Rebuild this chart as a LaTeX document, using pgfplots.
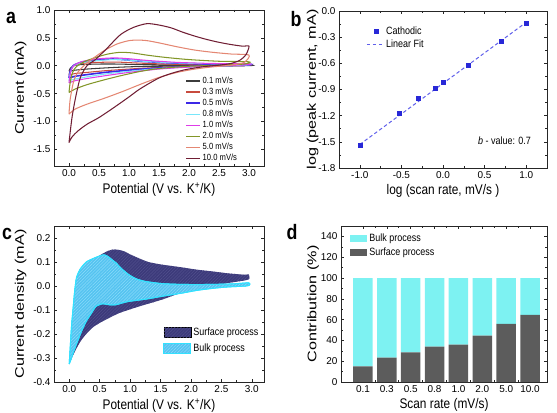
\documentclass[border=0pt]{standalone}
\usepackage{fontspec}
% the figure is set in a slightly condensed sans for horizontal text
\setmainfont{Liberation Sans}[FakeStretch=0.85]
% rotated (vertical) labels use a widened cut of the same family
\newfontfamily\vfont{Liberation Sans}[FakeStretch=1.3]
% plain cut for the tick numbers
\newfontfamily\tfont{Liberation Sans}
\usepackage{pgfplots}
\pgfplotsset{compat=1.18}
\usetikzlibrary{patterns.meta}

% scan-rate colours
\definecolor{cA}{RGB}{60,60,60}
\definecolor{cB}{RGB}{200,75,62}
\definecolor{cC}{RGB}{60,40,230}
\definecolor{cD}{RGB}{120,230,250}
\definecolor{cE}{RGB}{222,60,232}
\definecolor{cF}{RGB}{130,150,40}
\definecolor{cG}{RGB}{228,135,115}
\definecolor{cH}{RGB}{112,30,52}
% fitting / decomposition colours
\definecolor{ptblue}{RGB}{40,40,215}
\definecolor{fitblue}{RGB}{95,95,235}
\definecolor{surf}{RGB}{60,58,122}
\definecolor{surfhatch}{RGB}{82,80,142}
\definecolor{bulk}{RGB}{85,195,240}
\definecolor{bulkhatch}{RGB}{140,220,252}
\definecolor{bulkedge}{RGB}{50,225,255}
\definecolor{barcyan}{RGB}{125,242,242}
\definecolor{bargray}{RGB}{92,92,92}

\pgfplotsset{
  panel/.style={
    scale only axis,
    tick align=inside,
    axis line style={line width=0.8bp, black!85},
    every tick/.style={black!85, line width=0.6bp},
    major tick length=3.2bp,
    minor tick length=1.8bp,
    /pgf/number format/assume math mode=true,
    tick label style={font=\tfont\fontsize{10}{11}\selectfont},
    xlabel style={font=\fontsize{14}{15}\selectfont, yshift=1bp},
    ylabel style={font=\vfont\fontsize{12.5}{13}\selectfont},
  },
  onedec/.style={/pgf/number format/.cd, fixed, fixed zerofill, precision=1},
}

\begin{document}
\begin{tikzpicture}[x=1bp,y=1bp]
\useasboundingbox (0,0) rectangle (557,412);

% ---------------- (a) cyclic voltammograms ----------------
\begin{axis}[panel, at={(54bp,246bp)}, anchor=south west,
  width=210bp, height=156bp,
  xmin=-0.25, xmax=3.25, ymin=-1.8, ymax=1.0,
  xtick={0,0.5,...,3}, ytick={-1.5,-1,...,1},
  minor x tick num=1, minor y tick num=1,
  xticklabel style={onedec}, yticklabel style={onedec},
  xlabel={Potential (V vs. K\textsuperscript{+}/K)},
  ylabel={Current (mA)},
  legend style={at={(axis description cs:0.625,0.585)}, anchor=north west,
    draw=none, fill=none, font=\fontsize{9}{9.5}\selectfont,
    inner sep=0pt, row sep=-0.9bp, cells={anchor=west}},
  legend image code/.code={\draw[#1, line width=1.3bp] (0bp,0bp) -- (14bp,0bp);},
  every axis plot/.append style={smooth, tension=0.45, line width=1.05bp},
]
\addplot[cA] coordinates {
 (0,-0.10) (0.02,-0.05) (0.08,0.0) (0.2,0.02) (0.5,0.03) (0.8,0.03) (1.2,0.02) (2.0,0.012) (3.0,0.01)
 (2.95,0.0) (2.0,-0.005) (1.5,-0.01) (1.0,-0.02) (0.6,-0.04) (0.3,-0.06) (0.1,-0.08) (0,-0.10)};
\addlegendentry{0.1 mV/s}
\addplot[cB] coordinates {
 (0,-0.17) (0.02,-0.08) (0.08,0.0) (0.2,0.04) (0.5,0.06) (0.8,0.065) (1.1,0.05) (1.6,0.03) (2.2,0.02) (3.0,0.018)
 (2.95,0.005) (2.5,0.0) (2.0,-0.01) (1.5,-0.03) (1.0,-0.06) (0.6,-0.09) (0.3,-0.12) (0.1,-0.14) (0,-0.17)};
\addlegendentry{0.3 mV/s}
\addplot[cC, line width=1.6bp] coordinates {
 (0,-0.22) (0.02,-0.1) (0.07,0.0) (0.2,0.06) (0.45,0.1) (0.7,0.12) (0.9,0.11) (1.2,0.08) (1.7,0.05) (2.3,0.03) (3.0,0.025)
 (2.95,0.01) (2.5,0.0) (2.0,-0.015) (1.5,-0.04) (1.0,-0.08) (0.6,-0.12) (0.3,-0.16) (0.1,-0.19) (0,-0.22)};
\addlegendentry{0.5 mV/s}
\addplot[cD] coordinates {
 (0,-0.27) (0.02,-0.13) (0.07,-0.01) (0.2,0.05) (0.45,0.09) (0.75,0.11) (1.0,0.1) (1.3,0.075) (1.8,0.05) (2.4,0.035) (3.0,0.03)
 (2.95,0.012) (2.5,0.0) (2.0,-0.02) (1.5,-0.05) (1.0,-0.1) (0.6,-0.15) (0.3,-0.2) (0.1,-0.24) (0,-0.27)};
\addlegendentry{0.8 mV/s}
\addplot[cE] coordinates {
 (0,-0.31) (0.02,-0.15) (0.07,-0.01) (0.2,0.07) (0.45,0.12) (0.75,0.14) (1.0,0.125) (1.3,0.095) (1.8,0.06) (2.4,0.04) (3.0,0.035)
 (2.95,0.015) (2.5,0.0) (2.0,-0.025) (1.5,-0.06) (1.0,-0.12) (0.6,-0.18) (0.3,-0.23) (0.1,-0.27) (0,-0.31)};
\addlegendentry{1.0 mV/s}
\addplot[cF] coordinates {
 (0,-0.48) (0.02,-0.3) (0.06,-0.12) (0.12,-0.02) (0.25,0.07) (0.45,0.15) (0.65,0.21) (0.85,0.24) (1.05,0.23) (1.3,0.19) (1.6,0.15) (2.0,0.11) (2.5,0.08) (3.0,0.07)
 (2.92,0.03) (2.5,0.01) (2.0,-0.01) (1.5,-0.05) (1.2,-0.1) (0.9,-0.17) (0.6,-0.25) (0.3,-0.34) (0.1,-0.42) (0,-0.48)};
\addlegendentry{2.0 mV/s}
\addplot[cG] coordinates {
 (0,-0.87) (0.02,-0.6) (0.08,-0.27) (0.16,-0.1) (0.3,0.05) (0.45,0.17) (0.6,0.28) (0.8,0.39) (1.0,0.45) (1.15,0.46) (1.3,0.45) (1.5,0.41) (1.8,0.34) (2.1,0.28) (2.4,0.24) (2.7,0.21) (3.0,0.19)
 (2.92,0.06) (2.7,0.01) (2.4,-0.02) (2.1,-0.06) (1.8,-0.12) (1.5,-0.21) (1.2,-0.33) (0.9,-0.46) (0.6,-0.58) (0.3,-0.69) (0.1,-0.78) (0,-0.87)};
\addlegendentry{5.0 mV/s}
\addplot[cH] coordinates {
 (0,-1.38) (0.05,-0.93) (0.11,-0.57) (0.19,-0.21) (0.3,0.0) (0.44,0.11) (0.64,0.32) (0.86,0.56) (1.08,0.69) (1.3,0.755) (1.5,0.73) (1.7,0.68) (1.9,0.6) (2.1,0.53) (2.3,0.47) (2.5,0.42) (2.7,0.38) (2.9,0.35) (3.0,0.35)
 (2.95,0.2) (2.85,0.1) (2.7,0.04) (2.5,0.01) (2.3,-0.01) (2.1,-0.04) (1.9,-0.08) (1.7,-0.14) (1.5,-0.22) (1.3,-0.34) (1.15,-0.44) (1.0,-0.56) (0.75,-0.75) (0.5,-0.93) (0.3,-1.05) (0.15,-1.17) (0.05,-1.28) (0,-1.38)};
\addlegendentry{10.0 mV/s}
\end{axis}

% ---------------- (b) log(i) vs log(v) ----------------
\begin{axis}[panel, at={(339bp,244bp)}, anchor=south west,
  width=208bp, height=157bp,
  xmin=-1.25, xmax=1.25, ymin=-1.8, ymax=0,
  xtick={-1,-0.5,...,1}, ytick={-1.8,-1.5,...,0},
  minor x tick num=1, minor y tick num=1,
  xticklabel style={onedec}, yticklabel style={onedec},
  xlabel={log (scan rate, mV/s )},
  ylabel={log (peak current, mA)},
  ylabel shift=-7bp,
  legend style={at={(axis description cs:0.13,0.915)}, anchor=north west,
    draw=none, fill=none, font=\fontsize{10.6}{11}\selectfont,
    inner sep=0pt, row sep=0bp, cells={anchor=west}},
  legend image code/.code={\draw[#1] (0bp,0bp) -- (17bp,0bp);},
]
\addplot[only marks, mark=square*, mark size=2bp, ptblue,
  legend image code/.code={\draw[ptblue, fill=ptblue] (7bp,-2bp) rectangle (11bp,2bp);}]
 coordinates {(-1,-1.54) (-0.523,-1.17) (-0.301,-1.0) (-0.097,-0.88) (0,-0.82) (0.301,-0.62) (0.699,-0.35) (1,-0.135)};
\addlegendentry{Cathodic}
\addplot[fitblue, line width=1bp, dash pattern=on 3.5bp off 2.5bp]
 coordinates {(-1,-1.53) (1,-0.13)};
\addlegendentry{Linear Fit}
\node[font=\fontsize{10.6}{11}\selectfont] at (axis cs:0.74,-1.49) {\textit{b} - value: 0.7};
\end{axis}

% ---------------- (c) surface / bulk decomposition ----------------
\begin{axis}[panel, at={(54bp,30bp)}, anchor=south west,
  width=210bp, height=156bp,
  xmin=-0.25, xmax=3.2, ymin=-0.4, ymax=0.25,
  xtick={0,0.5,...,3}, ytick={-0.4,-0.3,...,0.21},
  minor x tick num=1, minor y tick num=1,
  xticklabel style={onedec}, yticklabel style={onedec},
  xlabel={Potential (V vs. K\textsuperscript{+}/K)},
  ylabel={Current density (mA)},
  legend style={at={(axis description cs:0.52,0.36)}, anchor=north west,
    draw=none, fill=none, font=\fontsize{10.6}{11}\selectfont,
    inner sep=0pt, row sep=3bp, cells={anchor=west}},
  legend image code/.code={\draw[#1] (0bp,-5bp) rectangle (27bp,5bp);},
  every axis plot/.append style={smooth, tension=0.4},
]
\addplot[draw=none, fill=surf,
  postaction={pattern={Lines[angle=45,distance=2.2bp,line width=0.45bp]}, pattern color=surfhatch}]
 coordinates {
 (0.0,-0.325) (0.02,-0.24) (0.04,-0.16) (0.065,-0.09) (0.09,-0.02) (0.12,0.035) (0.18,0.07) (0.28,0.1) (0.4,0.115) (0.5,0.127) (0.6,0.142) (0.71,0.152) (0.8,0.151) (0.9,0.145) (1.0,0.132) (1.15,0.115) (1.3,0.1) (1.5,0.09) (1.84,0.078) (2.1,0.068) (2.38,0.06) (2.6,0.053) (2.88,0.047) (2.95,0.048)
 (2.96,0.03) (2.9,0.024) (2.6,0.012) (2.38,0.002) (2.1,-0.012) (1.84,-0.028) (1.52,-0.057) (1.15,-0.085) (0.82,-0.113) (0.55,-0.147) (0.4,-0.17) (0.28,-0.2) (0.2,-0.225) (0.13,-0.255) (0.07,-0.285) (0.03,-0.307) (0.0,-0.325)};
\addlegendentry{Surface process}
\addplot[draw=bulkedge, line width=1bp, fill=bulk,
  postaction={pattern={Lines[angle=45,distance=2.2bp,line width=0.45bp]}, pattern color=bulkhatch}]
 coordinates {
 (0.0,-0.325) (0.02,-0.24) (0.04,-0.16) (0.065,-0.09) (0.09,-0.02) (0.12,0.035) (0.18,0.07) (0.28,0.1) (0.4,0.115) (0.5,0.125) (0.57,0.13) (0.63,0.124) (0.7,0.11) (0.77,0.096) (0.86,0.072) (0.98,0.047) (1.1,0.03) (1.25,0.019) (1.52,0.01) (1.8,0.007) (2.1,0.006) (2.4,0.007) (2.7,0.009) (2.95,0.013)
 (2.96,0.004) (2.9,0.0) (2.6,-0.004) (2.38,-0.009) (2.1,-0.018) (1.84,-0.03) (1.52,-0.043) (1.25,-0.055) (0.98,-0.064) (0.85,-0.072) (0.77,-0.078) (0.65,-0.078) (0.55,-0.074) (0.44,-0.085) (0.36,-0.115) (0.28,-0.147) (0.2,-0.19) (0.13,-0.235) (0.07,-0.275) (0.03,-0.305) (0.0,-0.325)};
\addlegendentry{Bulk process}
\end{axis}

% ---------------- (d) contribution ratios ----------------
\begin{axis}[panel, at={(341bp,30bp)}, anchor=south west,
  width=206bp, height=156bp,
  ybar stacked, bar width=19.5bp,
  xmin=-0.92, xmax=7.71, ymin=0, ymax=150,
  xtick={0,...,7},
  xticklabels={0.1,0.3,0.5,0.8,1.0,2.0,5.0,10.0},
  ytick={0,20,...,140},
  minor x tick num=1, minor y tick num=1,
  xlabel={Scan rate (mV/s)},
  ylabel={Contribution (\%)},
  ylabel shift=-5bp,
  reverse legend,
  legend style={at={(axis description cs:0.045,0.965)}, anchor=north west,
    draw=none, fill=none, font=\fontsize{10.6}{11}\selectfont,
    inner sep=0pt, row sep=1bp, cells={anchor=west}},
  legend image code/.code={\fill[#1] (0bp,-3.5bp) rectangle (17bp,3.5bp);},
]
\addplot[fill=bargray, draw=none] coordinates {
 (0,15) (1,23.5) (2,28.5) (3,34) (4,36) (5,44.5) (6,56) (7,64.5)};
\addlegendentry{Surface process}
\addplot[fill=barcyan, draw=none] coordinates {
 (0,85) (1,76.5) (2,71.5) (3,66) (4,64) (5,55.5) (6,44) (7,35.5)};
\addlegendentry{Bulk process}
\end{axis}

% panel letters
\node[font=\bfseries\fontsize{21}{21}\selectfont] at (11,394) {a};
\node[font=\bfseries\fontsize{21}{21}\selectfont] at (296,392.5) {b};
\node[font=\bfseries\fontsize{21}{21}\selectfont] at (7,178) {c};
\node[font=\bfseries\fontsize{21}{21}\selectfont] at (292,180) {d};
\end{tikzpicture}
\end{document}
